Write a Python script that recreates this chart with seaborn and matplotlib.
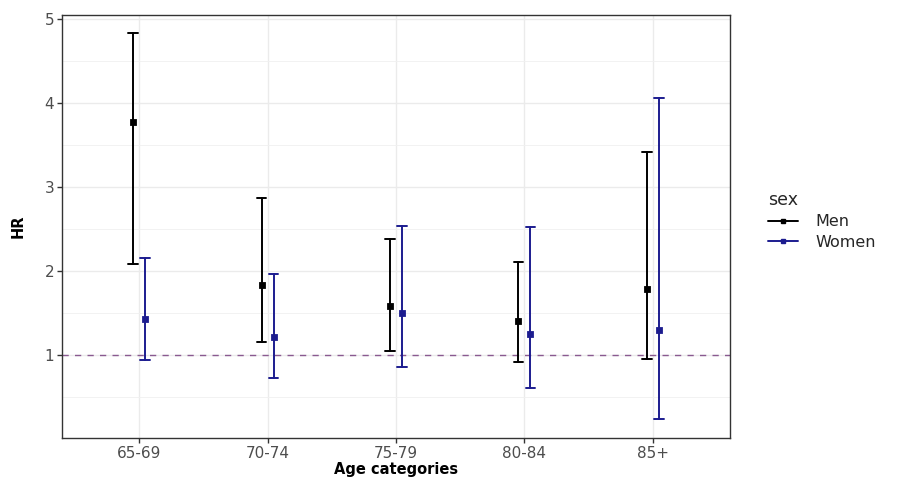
import numpy as np
import pandas as pd
import matplotlib
matplotlib.use("Agg")
import matplotlib.pyplot as plt
from matplotlib.lines import Line2D
import seaborn as sns

# ---- data ----
age_categories = ["65-69", "70-74", "75-79", "80-84", "85+"]
sexes = ["Men", "Women"]
men_hr = [3.78, 1.83, 1.58, 1.40, 1.79]
men_lo = [2.08, 1.15, 1.05, 0.92, 0.95]
men_hi = [4.83, 2.87, 2.38, 2.11, 3.42]
women_hr = [1.43, 1.21, 1.50, 1.25, 1.30]
women_lo = [0.94, 0.73, 0.86, 0.61, 0.24]
women_hi = [2.16, 1.96, 2.54, 2.53, 4.06]
y_ticks = [1, 2, 3, 4, 5]

# long table: each group holds (lo, estimate, hi); median = estimate, full range = CI
rows = []
for sex, est, lo, hi in [("Men", men_hr, men_lo, men_hi),
                         ("Women", women_hr, women_lo, women_hi)]:
    for a, e, l, h in zip(age_categories, est, lo, hi):
        for v in (l, e, h):
            rows.append({"age": a, "sex": sex, "HR": v})
df = pd.DataFrame(rows)

sns.set_theme(style="white")
plt.rcParams["font.family"] = ["DejaVu Sans"]

fig = plt.figure(figsize=(9.12, 4.79), dpi=100)
ax = fig.add_axes([62 / 912, 1 - 438 / 479, (730 - 62) / 912, (438 - 15) / 479])

palette = {"Men": "#000000", "Women": "#1c1c8f"}
sns.pointplot(data=df, x="age", y="HR", hue="sex", order=age_categories,
              hue_order=sexes, estimator="median", errorbar=("pi", 100),
              dodge=0.094, linestyle="none", markers="s", markersize=3.2,
              capsize=0.075, palette=palette,
              err_kws={"linewidth": 1.4}, ax=ax, zorder=3, legend=False)

ax.axhline(1, color="#8a5a90", linestyle=(0, (4.5, 4.5)), linewidth=1.0, zorder=2)

ax.set_xlim(-0.6, 4.6)
ax.set_ylim(0.012, 5.048)
ax.set_yticks(y_ticks)
ax.set_yticks([0.5, 1.5, 2.5, 3.5, 4.5], minor=True)
ax.grid(True, which="major", color="#ebebeb", linewidth=1.0, zorder=0)
ax.grid(True, which="minor", axis="y", color="#f0f0f0", linewidth=0.6, zorder=0)
ax.set_axisbelow(True)
for s in ax.spines.values():
    s.set_color("#333333")
    s.set_linewidth(1.0)
ax.tick_params(axis="both", which="major", length=3.5, width=1.0, color="#333333",
               labelsize=11, labelcolor="#4d4d4d", pad=2, left=True, bottom=True)
ax.tick_params(axis="both", which="minor", length=0)

ax.set_xlabel("Age categories", fontsize=10.5, fontweight="bold", color="black", labelpad=1)
ax.set_ylabel("HR", fontsize=10.5, fontweight="bold", color="black", labelpad=14)

handles = [Line2D([0], [0], color=palette[s], marker="s", markersize=3.2, linewidth=1.4)
           for s in sexes]
leg = ax.legend(handles, sexes, title="sex", loc="center left",
                bbox_to_anchor=(1.035, 0.515), frameon=False, fontsize=11.5,
                title_fontsize=12.5, handlelength=1.9, handletextpad=1.1,
                labelspacing=0.35, alignment="left")

fig.savefig("out.png", dpi=100)
